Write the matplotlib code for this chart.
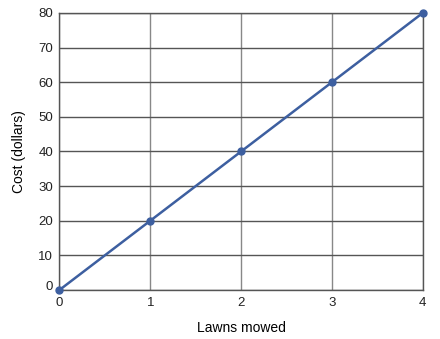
import matplotlib
matplotlib.use("Agg")
import matplotlib.pyplot as plt
import matplotlib.transforms as mtransforms

lawns = [0, 1, 2, 3, 4]
cost = [0, 20, 40, 60, 80]
y_ticks = [0, 10, 20, 30, 40, 50, 60, 70, 80]

plt.rcParams['font.family'] = ['Liberation Sans', 'DejaVu Sans']

fig = plt.figure(figsize=(4.4, 3.39), dpi=100)
ax = fig.add_axes([0.135, 0.1445, 0.826, 0.8175])

ax.plot(lawns, cost, color='#3d5fa0', lw=1.8, marker='o', ms=5, clip_on=False, zorder=3)

ax.set_xlim(0, 4)
ax.set_ylim(0, 80)
ax.set_xticks(lawns)
ax.set_yticks(y_ticks)
ax.tick_params(length=0, labelsize=9.5, colors='#222222')
ax.tick_params(axis='x', pad=5)
ax.tick_params(axis='y', pad=4.5)
ax.grid(True, axis='y', color='#555555', lw=1)
ax.grid(True, axis='x', color='#888888', lw=1)
for s in ax.spines.values():
    s.set_color('#555555')
    s.set_linewidth(1)

# the zero label on the y axis sits slightly above the line in the original
lbl0 = ax.get_yticklabels()[0]
lbl0.set_transform(lbl0.get_transform() + mtransforms.ScaledTranslation(0, 5 / 100, fig.dpi_scale_trans))

ax.set_xlabel('Lawns mowed', fontsize=10, labelpad=9)
ax.set_ylabel('Cost (dollars)', fontsize=10, labelpad=9)

fig.savefig('out.png', dpi=100)
